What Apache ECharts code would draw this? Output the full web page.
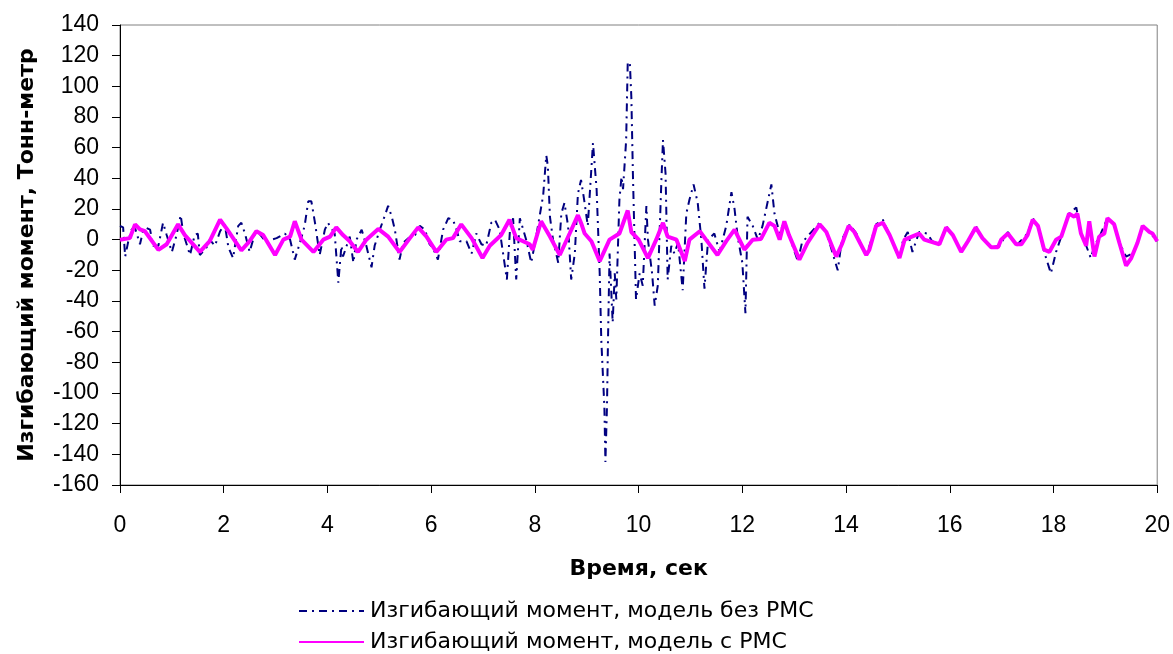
<!DOCTYPE html>
<html><head><meta charset="utf-8">
<script src="https://cdn.jsdelivr.net/npm/echarts@6/dist/echarts.min.js"></script>
<style>html,body{margin:0;padding:0;background:#fff;}#c{width:1173px;height:654px;}</style>
</head><body><div id="c"></div>
<script>
// Time (s) and bending moment (t·m) for the model without RMS (dash-dot, navy)
const tNoRMS = [0.00,0.06,0.10,0.16,0.22,0.29,0.385,0.45,0.51,0.58,0.64,0.74,0.83,0.90,1.00,1.09,1.17,1.22,1.35,1.44,1.50,1.54,1.67,1.73,1.83,1.93,2.02,2.09,2.18,2.28,2.34,2.41,2.50,2.60,2.66,2.83,2.92,3.02,3.18,3.28,3.37,3.47,3.56,3.63,3.69,3.76,3.85,3.95,4.01,4.14,4.21,4.27,4.30,4.43,4.50,4.56,4.66,4.75,4.85,4.91,5.01,5.10,5.17,5.24,5.30,5.39,5.46,5.56,5.69,5.78,5.88,5.97,6.03,6.13,6.23,6.33,6.42,6.49,6.55,6.68,6.78,6.87,6.97,7.06,7.16,7.23,7.32,7.46,7.52,7.58,7.64,7.71,7.84,7.93,8.03,8.09,8.16,8.22,8.25,8.29,8.35,8.45,8.51,8.57,8.64,8.70,8.77,8.83,8.89,8.95,9.02,9.12,9.19,9.25,9.28,9.34,9.36,9.39,9.41,9.44,9.50,9.54,9.57,9.63,9.67,9.70,9.76,9.79,9.83,9.86,9.89,9.95,10.02,10.08,10.15,10.18,10.26,10.31,10.37,10.44,10.47,10.52,10.56,10.63,10.69,10.76,10.85,10.92,10.98,11.06,11.14,11.21,11.27,11.34,11.46,11.56,11.69,11.79,11.85,11.91,12.00,12.06,12.10,12.20,12.30,12.39,12.56,12.62,12.72,12.81,12.90,13.07,13.15,13.49,13.62,13.84,13.92,14.07,14.20,14.39,14.58,14.71,14.84,15.03,15.10,15.19,15.28,15.41,15.57,15.66,15.80,15.93,16.06,16.22,16.35,16.50,16.63,16.80,16.96,17.12,17.28,17.50,17.60,17.70,17.82,17.95,18.05,18.15,18.30,18.44,18.53,18.62,18.72,18.79,18.90,19.04,19.17,19.27,19.40,19.52,19.62,19.72,19.85,20.00];
const vNoRMS = [9,8,-11,-1,6.5,7.6,-3,6.5,7.6,6.5,-4,-4,11,3,-8,3,16,4,-10,3,4,-10,-5,0,-4,5.5,10,-5,-12,9,11,4,-8,4,5,-2,0,1,4,0,-13,-2,9,25,25,11,-10,6.5,11,4,-28,-4,-11,2,-15,0,6.5,-4,-18,-4,6.5,15,22,15,6.5,-13,-2,1,3,9,6.5,-3,-5,-13,6.5,14,13,6.5,-1,-1,-9,4,-3,-4,11,13,6.5,-26,6.5,14,-26,14,-1,-15,3,15,29,55,48,15,0,-15,17,24,9,-26,-9,30,39,26,9,63,33,-22,-65,-109,-145,-109,-65,-9,-54,-22,-39,26,41,33,65,115,116,93,43,-39,-22,-30,22,0,-22,-43,-30,39,65,43,-26,-4,-9,-2,-33,17,26,36,24,0,-32,0,4,-8,9,31,20,2,-15,-48,15,9,0,9,36,17,4,12,3,-14,-2,11,5,-20,0,10,4,-11,10,13,3,-13,0,5,-8,5,4,-1,-3,9,3,-8,-1,9,1,-5,-4,5,-4,4,14,9,-8,-22,-8,2,17,21,4,-3,-12,-4,3,14,10,-2,-11,-9,-2,9,5,-1];

// Time (s) and bending moment (t·m) for the model with RMS (solid, magenta)
const tRMS = [0.00,0.19,0.29,0.385,0.48,0.74,0.90,1.12,1.25,1.54,1.73,1.93,2.06,2.34,2.50,2.63,2.76,2.99,3.15,3.28,3.37,3.50,3.73,3.92,4.05,4.17,4.30,4.43,4.59,4.75,4.98,5.17,5.39,5.59,5.75,5.91,6.10,6.29,6.42,6.58,6.78,6.99,7.13,7.35,7.51,7.64,7.90,7.96,8.12,8.29,8.48,8.67,8.83,8.90,8.96,9.09,9.25,9.44,9.63,9.79,9.86,10.00,10.18,10.34,10.47,10.56,10.73,10.89,10.98,11.18,11.30,11.52,11.69,11.85,12.04,12.20,12.36,12.52,12.62,12.72,12.81,12.90,13.10,13.26,13.49,13.62,13.81,13.92,14.05,14.16,14.39,14.45,14.58,14.71,14.84,15.03,15.13,15.41,15.51,15.60,15.80,15.93,16.06,16.22,16.35,16.50,16.63,16.80,16.93,16.99,17.12,17.28,17.38,17.50,17.60,17.70,17.82,17.92,18.05,18.15,18.30,18.40,18.46,18.53,18.63,18.69,18.72,18.79,18.88,18.98,19.04,19.17,19.27,19.40,19.50,19.62,19.72,19.85,19.91,20.00];
const vRMS = [0,1,10,6.7,5.5,-6.7,-3,10,3,-8,-1,13,7,-7,-1,5.5,3,-10,0,2,12,0,-8,0,2,8,3,-1,-8,0,7,2,-8,1,8,2,-8,0,1,10,1,-12,-4,3,13,1,-3,-6.5,12,2,-10,4,16,10,4,-1,-14,0,4,19,5,0,-12,0,11,2,0,-14,0,5.5,0,-10,-1,6.5,-6.5,0,0.5,11,9,0,12,3,-13,-2,10,5,-11,-3,9,5,-10,-6.5,9,11,3,-12,0,4,0,-1,-3,8,3,-8,-1,8,1,-5,-5,0,4,-3,-3,3,13,9,-6.5,-8,0,2,17,15,17,4,-4,12,12,-11,2,4,14,10,-2,-17,-12,-2,9,5,4,-1];

const xTicks = {min: 0, max: 20, interval: 2};
const yTicks = {min: -160, max: 140, interval: 20};
const seriesNames = ['Изгибающий момент, модель без РМС', 'Изгибающий момент, модель с РМС'];
const xTitle = 'Время, сек';
const yTitle = 'Изгибающий момент, Тонн-метр';

const pairs = (t, v) => t.map((x, i) => [x, v[i]]);
const NUMFONT = 'Liberation Sans, Arial, sans-serif';
const CYRFONT = 'DejaVu Sans, Liberation Sans, sans-serif';

const legendBase = {
  orient: 'vertical', left: 298, padding: 0,
  itemWidth: 65, itemHeight: 14, itemGap: 0,
  itemStyle: {opacity: 0},
  textStyle: {fontSize: 22, fontFamily: CYRFONT, color: '#000', padding: [0, 0, 0, 1]}
};

const chart = echarts.init(document.getElementById('c'), null, {renderer: 'canvas'});
chart.setOption({
  animation: false,
  backgroundColor: '#ffffff',
  textStyle: {fontFamily: NUMFONT, color: '#000'},
  grid: {left: 120, right: 15, top: 25, bottom: 169, show: true, borderColor: '#808080', borderWidth: 1, backgroundColor: 'transparent'},
  legend: [
    Object.assign({}, legendBase, {data: [seriesNames[0]], top: 600}),
    Object.assign({}, legendBase, {data: [seriesNames[1]], top: 631})
  ],
  xAxis: {
    type: 'value', min: xTicks.min, max: xTicks.max, interval: xTicks.interval,
    name: xTitle, nameLocation: 'middle', nameGap: 73,
    nameTextStyle: {fontSize: 22, fontWeight: 'bold', fontFamily: CYRFONT, color: '#000'},
    axisLine: {onZero: false, lineStyle: {color: '#000', width: 1}},
    axisTick: {show: true, length: 8, lineStyle: {color: '#000'}},
    axisLabel: {fontSize: 23, color: '#000', margin: 29, fontFamily: NUMFONT},
    splitLine: {show: false}
  },
  yAxis: {
    type: 'value', min: yTicks.min, max: yTicks.max, interval: yTicks.interval,
    name: yTitle, nameLocation: 'middle', nameRotate: 90, nameGap: 82,
    nameTextStyle: {fontSize: 22, fontWeight: 'bold', fontFamily: CYRFONT, color: '#000'},
    axisLine: {show: true, onZero: false, lineStyle: {color: '#000', width: 1}},
    axisTick: {show: true, length: 8, lineStyle: {color: '#000'}},
    axisLabel: {fontSize: 23, color: '#000', margin: 21, fontFamily: NUMFONT},
    splitLine: {show: false}
  },
  series: [
    {
      name: seriesNames[0], type: 'line', data: pairs(tNoRMS, vNoRMS),
      symbol: 'none', smooth: false,
      lineStyle: {color: '#000080', width: 2, type: [8, 5, 2, 5]},
      itemStyle: {color: '#000080'}, z: 2
    },
    {
      name: seriesNames[1], type: 'line', data: pairs(tRMS, vRMS),
      symbol: 'none', smooth: false,
      lineStyle: {color: '#ff00ff', width: 4},
      itemStyle: {color: '#ff00ff'}, z: 3
    }
  ]
});
</script></body></html>
